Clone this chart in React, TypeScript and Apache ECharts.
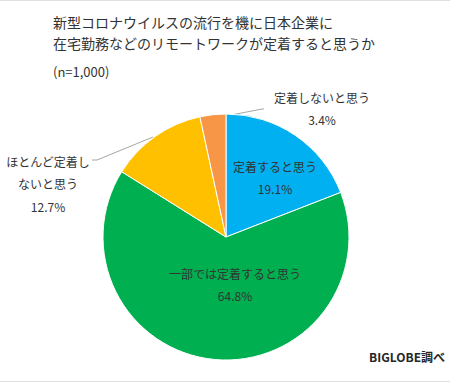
import React, { useEffect, useRef } from "react";
import * as echarts from "echarts";

const titleLines = ["新型コロナウイルスの流行を機に日本企業に", "在宅勤務などのリモートワークが定着すると思うか"];
const sampleNote = "(n=1,000)";
const sourceNote = "BIGLOBE調べ";
const categories = ["定着すると思う", "一部では定着すると思う", "ほとんど定着しないと思う", "定着しないと思う"];
const labelNames = ["定着すると思う", "一部では定着すると思う", "ほとんど定着し\nないと思う", "定着しないと思う"];
const values = [19.1, 64.8, 12.7, 3.4];
const colors = ["#00B0F0", "#00B050", "#FFC000", "#F79646"];

const FONT = "'Noto Sans CJK JP', 'Noto Sans', sans-serif";

export default function App() {
  const ref = useRef<HTMLDivElement>(null);
  useEffect(() => {
    if (!ref.current) return;
    const chart = echarts.init(ref.current, undefined, { renderer: "svg" });
    // label block: center x, first-line y, leader line points
    const labelPos: any[] = [
      { x: 275, y: 166 },
      { x: 235, y: 273 },
      { x: 48, y: 161, line: [[153, 137], [97, 160], [92, 160]] },
      { x: 322, y: 97, line: [[226, 116], [262, 109], [264, 109]] },
    ];
    const rows = labelNames.map((n, i) => [...n.split("\n"), `${values[i]}%`]);
    const ROW_H = 22.5;
    const makeSeries = (k: number) => ({
      type: "pie",
      z: 2 + k,
      silent: k > 0,
      center: [226, 237],
      radius: 123,
      startAngle: 90,
      clockwise: true,
      itemStyle:
        k === 0
          ? { borderColor: "#ffffff", borderWidth: 1 }
          : { color: "rgba(0,0,0,0)", borderWidth: 0 },
      label: {
        show: true,
        fontFamily: FONT,
        fontSize: 12,
        color: "#333333",
        align: "center",
        overflow: "none",
        alignTo: "none",
        formatter: (p: any) => rows[p.dataIndex][k] ?? "",
      },
      labelLine: { show: k === 0, lineStyle: { color: "#a6a6a6", width: 1 }, smooth: false },
      labelLayout: (params: any) => {
        const lp = labelPos[params.dataIndex];
        const res: any = { x: lp.x, y: lp.y + k * ROW_H, align: "center", verticalAlign: "middle" };
        if (k === 0 && lp.line) res.labelLinePoints = lp.line;
        return res;
      },
      data: categories.map((c, i) => ({
        name: c,
        value: values[i],
        itemStyle: k === 0 ? { color: colors[i] } : undefined,
        label: { show: rows[i][k] !== undefined },
        labelLine: { show: k === 0 && !!labelPos[i].line },
      })),
    });
    chart.setOption({
      animation: false,
      backgroundColor: "#ffffff",
      graphic: [
        { type: "line", shape: { x1: 0, y1: 0.5, x2: 450, y2: 0.5 }, style: { stroke: "#e0e0e0", lineWidth: 1 } },
        { type: "line", shape: { x1: 0, y1: 381.5, x2: 450, y2: 381.5 }, style: { stroke: "#e0e0e0", lineWidth: 1 } },
        { type: "text", left: 53, top: 15, style: { text: titleLines[0], font: `14px ${FONT}`, fill: "#333333" } },
        { type: "text", left: 53, top: 36, style: { text: titleLines[1], font: `14px ${FONT}`, fill: "#333333" } },
        { type: "text", left: 53, top: 65, style: { text: sampleNote, font: `13px ${FONT}`, fill: "#333333" } },
        { type: "text", left: 369, top: 350, style: { text: sourceNote, font: `bold 12px ${FONT}`, fill: "#262626" } },
      ],
      series: [0, 1, 2].map(makeSeries),
    });
    return () => chart.dispose();
  }, []);
  return <div ref={ref} style={{ position: "absolute", left: 0, top: 0, width: 450, height: 382 }} />;
}
